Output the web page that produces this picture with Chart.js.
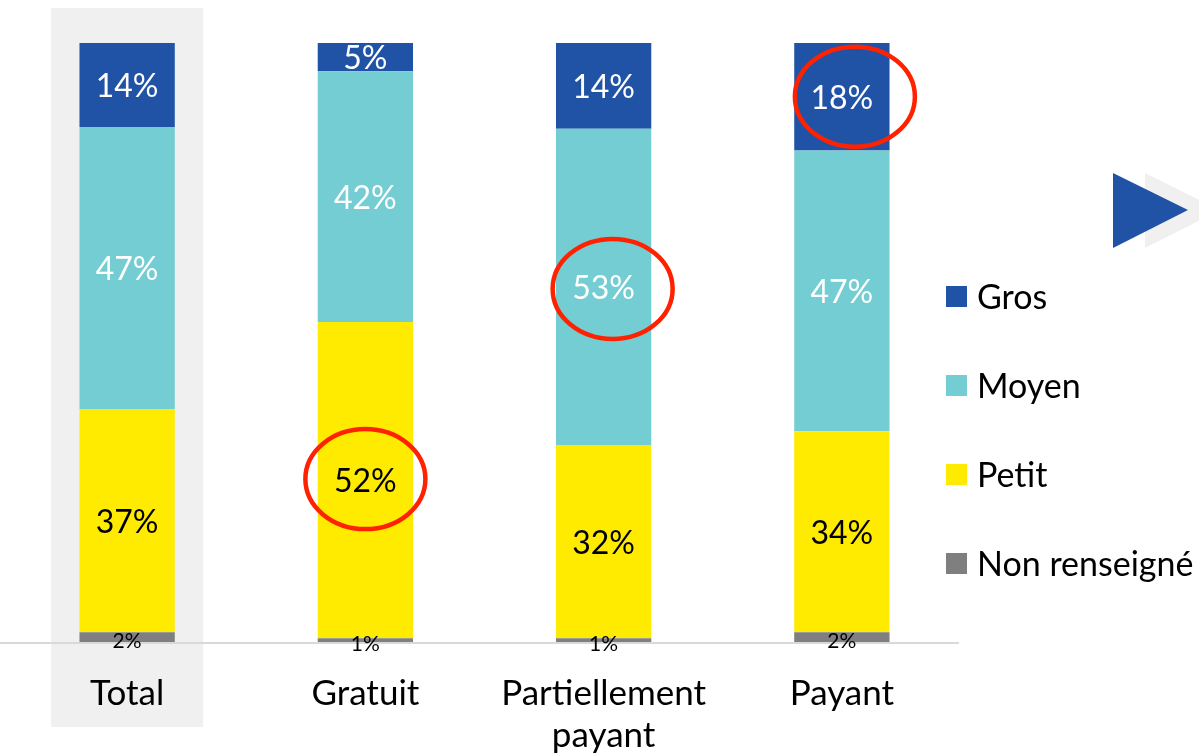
<!DOCTYPE html>
<html>
<head>
<meta charset="utf-8">
<script src="https://cdn.jsdelivr.net/npm/chart.js@4.4.1/dist/chart.umd.min.js"></script>
<style>
    html, body { margin: 0; padding: 0; background: #ffffff; }
    #wrap { position: relative; width: 1199px; height: 755px; }
</style>
</head>
<body>
<div id="wrap"><canvas id="chart"></canvas></div>
<script>
// Categories (x axis)
const categories = [['Total'], ['Gratuit'], ['Partiellement', 'payant'], ['Payant']];

// Series values in %, bottom to top of each stack
const nonRenseigne = [1.8, 0.8, 0.8, 1.8];
const petit = [37.2, 52.7, 32.2, 33.5];
const moyen = [47.0, 41.8, 52.7, 46.8];
const gros = [14.0, 4.7, 14.3, 17.9];

// Labels printed on the bars
const nonLabels = ['2%', '1%', '1%', '2%'];
const petitLabels = ['37%', '52%', '32%', '34%'];
const moyenLabels = ['47%', '42%', '53%', '47%'];
const grosLabels = ['14%', '5%', '14%', '18%'];

const FONT = 'Lato, "Open Sans", sans-serif';

// Red circles drawn round some labels: [datasetIndex, categoryIndex, dx, dy]
const highlights = [
    [3, 3, 13, 0],
    [2, 2, 9, 2],
    [1, 1, 0, -1]
];

const datasets = [
    { label: 'Non renseigné', data: nonRenseigne, texts: nonLabels, backgroundColor: '#7f7f7f', textColor: '#000000', small: true },
    { label: 'Petit', data: petit, texts: petitLabels, backgroundColor: '#ffeb00', textColor: '#000000' },
    { label: 'Moyen', data: moyen, texts: moyenLabels, backgroundColor: '#74cdd2', textColor: '#ffffff' },
    { label: 'Gros', data: gros, texts: grosLabels, backgroundColor: '#2052a5', textColor: '#ffffff' }
];

const decorPlugin = {
    id: 'decor',
    beforeDraw(chart) {
        const ctx = chart.ctx;
        const x = chart.scales.x;
        const cx = x.getPixelForValue(0);
        ctx.save();
        ctx.fillStyle = '#f0f0f0';
        ctx.fillRect(cx - 76, 8, 152, 719);
        ctx.restore();
    },
    afterDatasetsDraw(chart) {
        const ctx = chart.ctx;
        const area = chart.chartArea;
        ctx.save();

        // baseline
        ctx.strokeStyle = '#d9d9d9';
        ctx.lineWidth = 2;
        ctx.beginPath();
        ctx.moveTo(0, area.bottom);
        ctx.lineTo(area.right - 2, area.bottom);
        ctx.stroke();

        // value labels
        ctx.textAlign = 'center';
        ctx.textBaseline = 'middle';
        chart.data.datasets.forEach((ds, di) => {
            const meta = chart.getDatasetMeta(di);
            meta.data.forEach((bar, i) => {
                const mid = (bar.y + bar.base) / 2;
                ctx.fillStyle = ds.textColor;
                if (ds.small) {
                    ctx.font = '21px ' + FONT;
                    ctx.fillText(ds.texts[i], bar.x, mid + 4);
                } else {
                    ctx.font = '32px ' + FONT;
                    ctx.fillText(ds.texts[i], bar.x, mid + 2);
                }
            });
        });

        // red ellipses
        ctx.strokeStyle = '#ff2200';
        ctx.lineWidth = 4.5;
        highlights.forEach(([di, i, dx, dy]) => {
            const bar = chart.getDatasetMeta(di).data[i];
            const cx = bar.x + dx;
            const cy = (bar.y + bar.base) / 2 + dy;
            ctx.beginPath();
            ctx.ellipse(cx, cy, 60, 50, 0, 0, Math.PI * 2);
            ctx.stroke();
        });

        // legend, top to bottom = Gros .. Non renseigné
        const order = [3, 2, 1, 0];
        ctx.textAlign = 'left';
        ctx.font = '34px ' + FONT;
        order.forEach((di, k) => {
            const ds = chart.data.datasets[di];
            const y = 296 + k * 89;
            ctx.fillStyle = ds.backgroundColor;
            ctx.fillRect(946, y - 10, 21, 21);
            ctx.fillStyle = '#000000';
            ctx.fillText(ds.label, 977, y + 2);
        });

        // arrow decoration
        ctx.fillStyle = '#f0f0f0';
        ctx.beginPath();
        ctx.moveTo(1145, 173);
        ctx.lineTo(1220, 210);
        ctx.lineTo(1145, 248);
        ctx.closePath();
        ctx.fill();
        ctx.fillStyle = '#2052a5';
        ctx.beginPath();
        ctx.moveTo(1113, 173);
        ctx.lineTo(1188, 210);
        ctx.lineTo(1113, 248);
        ctx.closePath();
        ctx.fill();

        ctx.restore();
    }
};

new Chart(document.getElementById('chart'), {
    type: 'bar',
    data: { labels: categories, datasets: datasets },
    options: {
        responsive: true,
        maintainAspectRatio: false,
        animation: false,
        layout: { padding: { top: 43, left: 8, right: 238, bottom: 0 } },
        plugins: {
            legend: { display: false },
            tooltip: { enabled: false }
        },
        datasets: {
            bar: { categoryPercentage: 1, barPercentage: 0.4, borderWidth: 0 }
        },
        scales: {
            x: {
                stacked: true,
                grid: { display: false, drawTicks: false },
                border: { display: false },
                ticks: {
                    color: '#000000',
                    padding: 30,
                    font: { family: FONT, size: 35, lineHeight: 1.2 }
                },
                afterFit(scale) { scale.height = 112; }
            },
            y: {
                stacked: true,
                display: false,
                min: 0,
                max: 100
            }
        }
    },
    plugins: [decorPlugin]
});
</script>
</body>
</html>
